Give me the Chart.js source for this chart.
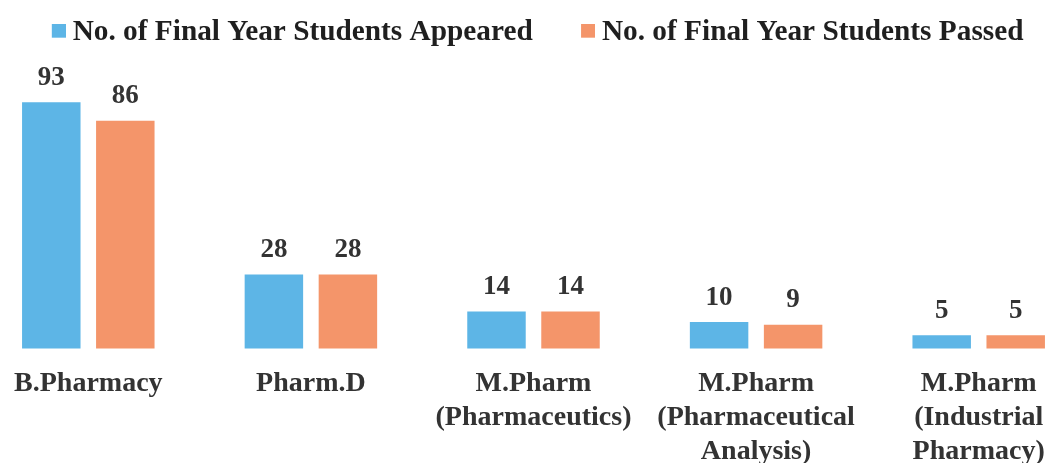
<!DOCTYPE html>
<html>
<head>
<meta charset="utf-8">
<script src="https://cdn.jsdelivr.net/npm/chart.js@4.4.0/dist/chart.umd.min.js"></script>
<style>
  html, body { margin: 0; padding: 0; background: #ffffff; overflow: hidden; width: 1050px; height: 463px; }
  #wrap { position: relative; width: 1050px; height: 463px; overflow: hidden; }
  #c { position: absolute; left: -23px; top: -22px; width: 1113px; height: 509px; }
</style>
</head>
<body>
<div id="wrap"><canvas id="c" width="1113" height="509"></canvas></div>
<script>
// ---- data ----
const categories = [
  'B.Pharmacy',
  'Pharm.D',
  ['M.Pharm', '(Pharmaceutics)'],
  ['M.Pharm', '(Pharmaceutical', 'Analysis)'],
  ['M.Pharm', '(Industrial', 'Pharmacy)']
];
const seriesNames = ['No. of Final Year Students Appeared', 'No. of Final Year Students Passed'];
const appeared = [93, 28, 14, 10, 5];
const passed = [86, 28, 14, 9, 5];
const seriesColors = ['#5DB5E6', '#F4956A'];

const FONT = "'Liberation Serif', 'Times New Roman', serif";

function makeSwatch(color) {
  const cv = document.createElement('canvas');
  cv.width = 30; cv.height = 18;
  const g = cv.getContext('2d');
  g.fillStyle = color;
  g.fillRect(16, 0, 14, 14);
  return cv;
}
const swatches = seriesColors.map(makeSwatch);

const valueLabels = {
  id: 'valueLabels',
  afterDatasetsDraw(chart) {
    const ctx = chart.ctx;
    ctx.save();
    ctx.font = 'bold 27px ' + FONT;
    ctx.fillStyle = '#333333';
    ctx.textAlign = 'center';
    ctx.textBaseline = 'alphabetic';
    chart.data.datasets.forEach((ds, di) => {
      const meta = chart.getDatasetMeta(di);
      meta.data.forEach((el, i) => {
        ctx.fillText(String(ds.data[i]), el.x, el.y - 17.5);
      });
    });
    ctx.restore();
  }
};

new Chart(document.getElementById('c'), {
  type: 'bar',
  data: {
    labels: categories,
    datasets: [
      { label: seriesNames[0], data: appeared, backgroundColor: seriesColors[0], borderWidth: 0, clip: false },
      { label: seriesNames[1], data: passed, backgroundColor: seriesColors[1], borderWidth: 0, clip: false }
    ]
  },
  options: {
    responsive: false,
    devicePixelRatio: 1,
    animation: false,
    layout: { padding: 0 },
    datasets: { bar: { categoryPercentage: 0.665, barPercentage: 0.79 } },
    plugins: {
      tooltip: { enabled: false },
      legend: {
        display: true,
        position: 'top',
        align: 'center',
        labels: {
          usePointStyle: true,
          pointStyleWidth: 14.5,
          padding: 40,
          color: '#1f1f1f',
          font: { family: FONT, size: 29.3, weight: 'bold' },
          generateLabels(chart) {
            const items = Chart.defaults.plugins.legend.labels.generateLabels(chart);
            items.forEach((it, i) => { it.pointStyle = swatches[i]; });
            return items;
          }
        }
      }
    },
    scales: {
      x: {
        offset: true,
        grid: { display: false, drawTicks: false },
        border: { display: false },
        ticks: {
          autoSkip: false,
          maxRotation: 0,
          minRotation: 0,
          padding: 18,
          color: '#333333',
          font: { family: FONT, size: 28, weight: 'bold', lineHeight: 1.22 }
        }
      },
      y: {
        display: false,
        min: 0,
        max: 110
      }
    }
  },
  plugins: [valueLabels]
});
</script>
</body>
</html>
